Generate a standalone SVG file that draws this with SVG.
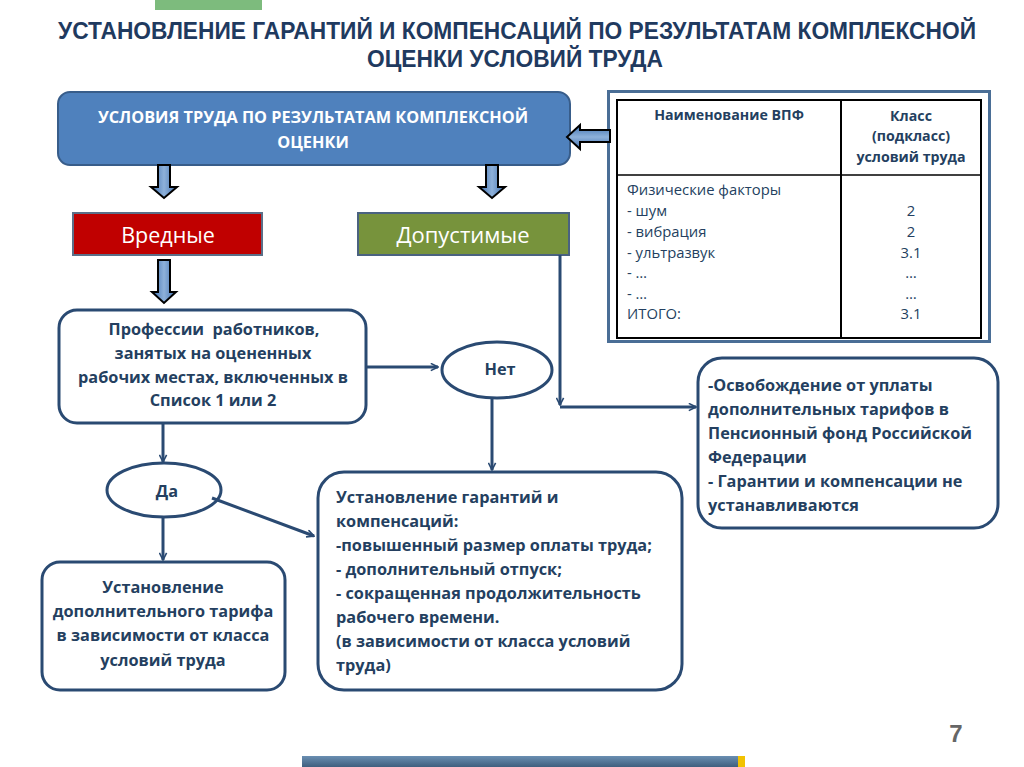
<svg xmlns="http://www.w3.org/2000/svg" width="1024" height="767" viewBox="0 0 1024 767">
<defs>
<marker id="ah" viewBox="0 0 10 10" refX="9" refY="5" markerWidth="9" markerHeight="9" markerUnits="userSpaceOnUse" orient="auto"><path d="M1,1 L9,5 L1,9" fill="none" stroke="#2A4A72" stroke-width="1.8"/></marker>
<linearGradient id="ba" x1="0" y1="0" x2="1" y2="0"><stop offset="0" stop-color="#3E6FAE"/><stop offset="0.5" stop-color="#8EB1DA"/><stop offset="1" stop-color="#3E6FAE"/></linearGradient>
<linearGradient id="bav" x1="0" y1="0" x2="0" y2="1"><stop offset="0" stop-color="#3E6FAE"/><stop offset="0.5" stop-color="#8EB1DA"/><stop offset="1" stop-color="#3E6FAE"/></linearGradient>
<linearGradient id="bar" x1="0" y1="0" x2="0" y2="1"><stop offset="0" stop-color="#6A8FB2"/><stop offset="1" stop-color="#3F5F7E"/></linearGradient>
</defs>
<style>
.title{font-family:"Liberation Sans Narrow","Liberation Sans",Arial,sans-serif;font-weight:bold;font-size:23px;fill:#1F3A5F;text-anchor:middle}
.box{fill:#fff;stroke:#2A4A72;stroke-width:3}
.t{font-family:"Open Sans","Noto Sans",sans-serif;font-weight:bold;font-size:16.3px;fill:#243F60}
.c{text-anchor:middle}
.tb{font-family:"Open Sans","Noto Sans",sans-serif;font-size:14.8px;fill:#243F60}
.tbh{font-family:"Open Sans","Noto Sans",sans-serif;font-size:14.2px;font-weight:bold;fill:#243F60;text-anchor:middle}
.conn{fill:none;stroke:#2A4A72;stroke-width:3;marker-end:url(#ah)}
.blk{stroke:#000;stroke-width:2;stroke-linejoin:miter}
.big{font-family:"Open Sans","Noto Sans",sans-serif;fill:#fff;text-anchor:middle}
</style>
<rect x="155" y="0" width="107" height="10" fill="#7DBB7D"/>
<text class="title" x="517" y="39" textLength="918" lengthAdjust="spacingAndGlyphs">УСТАНОВЛЕНИЕ ГАРАНТИЙ И КОМПЕНСАЦИЙ ПО РЕЗУЛЬТАТАМ КОМПЛЕКСНОЙ</text>
<text class="title" x="515" y="67" textLength="296" lengthAdjust="spacingAndGlyphs">ОЦЕНКИ УСЛОВИЙ ТРУДА</text>

<g id="main">
<rect x="58" y="92" width="512" height="73" rx="12" fill="#4F81BD" stroke="#385D8A" stroke-width="2"/>
<text class="t c" x="313" y="123" style="fill:#fff;font-size:16.3px">УСЛОВИЯ ТРУДА ПО РЕЗУЛЬТАТАМ КОМПЛЕКСНОЙ</text>
<text class="t c" x="313" y="148" style="fill:#fff;font-size:16.3px">ОЦЕНКИ</text>
</g>

<g id="table">
<rect x="608.5" y="91.5" width="381" height="250" fill="#fff" stroke="#4A6E96" stroke-width="3"/>
<rect x="617" y="100" width="364" height="238" fill="#fff" stroke="#000" stroke-width="2"/>
<line x1="841" y1="100" x2="841" y2="338" stroke="#000" stroke-width="2"/>
<line x1="617" y1="175" x2="981" y2="175" stroke="#000" stroke-width="1.5"/>
<text class="tbh" x="729" y="120">Наименование ВПФ</text>
<text class="tbh" x="911" y="121">Класс</text>
<text class="tbh" x="911" y="141">(подкласс)</text>
<text class="tbh" x="911" y="162">условий труда</text>
<text class="tb" x="627" y="195">Физические факторы</text>
<text class="tb" x="627" y="216">- шум</text>
<text class="tb" x="627" y="237">- вибрация</text>
<text class="tb" x="627" y="258">- ультразвук</text>
<text class="tb" x="627" y="278">- …</text>
<text class="tb" x="627" y="299">- …</text>
<text class="tb" x="627" y="319">ИТОГО:</text>
<text class="tb c" x="911" y="216">2</text>
<text class="tb c" x="911" y="237">2</text>
<text class="tb c" x="911" y="258">3.1</text>
<text class="tb c" x="911" y="278">…</text>
<text class="tb c" x="911" y="299">…</text>
<text class="tb c" x="911" y="319">3.1</text>
</g>

<g id="vrednye">
<rect x="73" y="213" width="189" height="42" fill="#C00000" stroke="#5B6F88" stroke-width="2"/>
<text class="big" x="168" y="243" style="font-size:21.5px">Вредные</text>
</g>
<g id="dopustimye">
<rect x="358" y="213" width="211" height="42" fill="#77933C" stroke="#4A6280" stroke-width="2"/>
<text class="big" x="463" y="243" style="font-size:22px">Допустимые</text>
</g>

<g id="professii">
<rect class="box" x="59" y="310" width="307" height="113" rx="18"/>
<text class="t c" x="214" y="335" xml:space="preserve">Профессии  работников,</text>
<text class="t c" x="213" y="359">занятых на оцененных</text>
<text class="t c" x="213" y="383">рабочих местах, включенных в</text>
<text class="t c" x="213" y="406">Список 1 или 2</text>
</g>

<g id="net">
<ellipse class="box" cx="497" cy="370" rx="55" ry="28"/>
<text class="t c" x="500" y="375">Нет</text>
</g>

<g id="da">
<ellipse class="box" cx="164" cy="490" rx="57" ry="27"/>
<text class="t c" x="167" y="497">Да</text>
</g>

<g id="tarif">
<rect class="box" x="42" y="562" width="243" height="128" rx="18"/>
<text class="t c" x="163" y="593">Установление</text>
<text class="t c" x="163" y="617">дополнительного тарифа</text>
<text class="t c" x="163" y="641">в зависимости от класса</text>
<text class="t c" x="163" y="666">условий труда</text>
</g>

<g id="garantii">
<rect class="box" x="318" y="472" width="364" height="218" rx="26"/>
<text class="t" x="336" y="503">Установление гарантий и</text>
<text class="t" x="336" y="527">компенсаций:</text>
<text class="t" x="336" y="551">-повышенный размер оплаты труда;</text>
<text class="t" x="336" y="575">- дополнительный отпуск;</text>
<text class="t" x="336" y="599">- сокращенная продолжительность</text>
<text class="t" x="336" y="623">рабочего времени.</text>
<text class="t" x="336" y="647">(в зависимости от класса условий</text>
<text class="t" x="336" y="671">труда)</text>
</g>

<g id="osvobozhdenie">
<rect class="box" x="698" y="358" width="300" height="170" rx="24"/>
<text class="t" x="708" y="391">-Освобождение от уплаты</text>
<text class="t" x="708" y="415">дополнительных тарифов в</text>
<text class="t" x="708" y="439">Пенсионный фонд Российской</text>
<text class="t" x="708" y="463">Федерации</text>
<text class="t" x="708" y="487">- Гарантии и компенсации не</text>
<text class="t" x="708" y="511">устанавливаются</text>
</g>

<g id="connectors">
<path class="blk" fill="url(#ba)" d="M158,165 H170 V187 H177 L164,198 L151,187 H158 Z"/>
<path class="blk" fill="url(#ba)" d="M486,165 H498 V187 H505 L492,198 L479,187 H486 Z"/>
<path class="blk" fill="url(#ba)" d="M158,260 H170 V292 H176 L164,303 L152,292 H158 Z"/>
<path class="blk" fill="url(#bav)" d="M610,130 H580 V125 L567,137 L580,149 V142 H610 Z"/>
<path class="conn" d="M366,367 H438"/>
<path class="conn" d="M492,398 V470"/>
<path class="conn" d="M163,423 V462"/>
<path class="conn" d="M163,517 V560"/>
<path class="conn" d="M212,498 L314,536"/>
<path class="conn" d="M560,255 V405"/>
<path class="conn" d="M560,407 H696"/>
</g>

<text x="956" y="742" style="font-family:'Liberation Sans',Arial,sans-serif;font-weight:bold;font-size:24px;fill:#666;text-anchor:middle">7</text>
<rect x="302" y="756" width="436" height="11" fill="url(#bar)"/>
<rect x="738" y="756" width="7" height="11" fill="#F2C200"/>
</svg>
